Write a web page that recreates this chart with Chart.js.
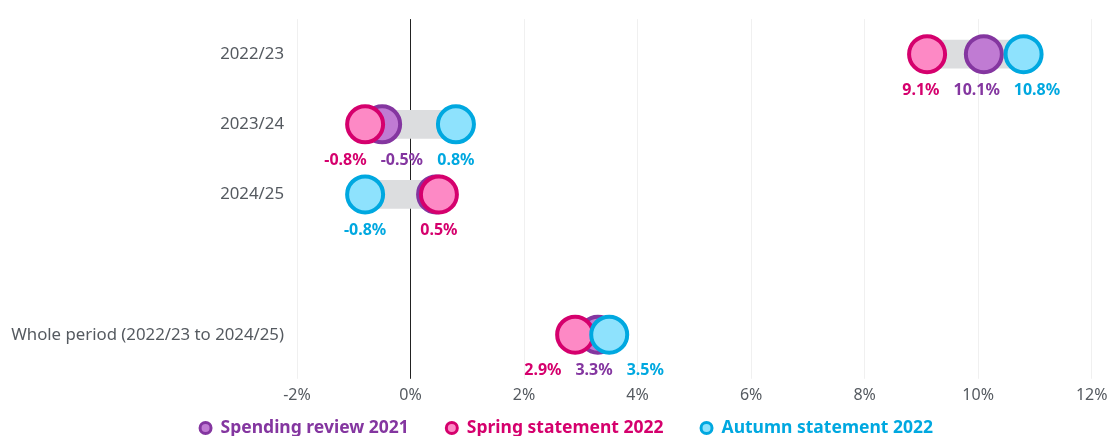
<!DOCTYPE html>
<html>
<head>
<meta charset="utf-8">
<script src="https://cdn.jsdelivr.net/npm/chart.js@4.4.1/dist/chart.umd.min.js"></script>
<style>
  html, body { margin: 0; padding: 0; background: #fff; overflow: hidden; }
  #wrap { width: 1115px; height: 440px; margin-top: -4px; position: relative; }
</style>
</head>
<body>
<div id="wrap"><canvas id="chart"></canvas></div>
<script>
// Categories (blank row keeps the gap before the whole period)
const categories = ['2022/23', '2023/24', '2024/25', '', 'Whole period (2022/23 to 2024/25)'];

// Per cent change
const spendingReview2021 = [10.1, -0.5, 0.45, null, 3.3];
const springStatement2022 = [9.1, -0.8, 0.5, null, 2.9];
const autumnStatement2022 = [10.8, 0.8, -0.8, null, 3.5];

// Labels the reference leaves out (hidden behind another dot)
const hiddenLabels = { 'Spending review 2021': ['2024/25'] };

const xTicks = [-2, 0, 2, 4, 6, 8, 10, 12];

const series = [
    { name: 'Spending review 2021', values: spendingReview2021, border: '#8436a0', fill: '#c07bd3', order: 3 },
    { name: 'Spring statement 2022', values: springStatement2022, border: '#d5006d', fill: '#fd89c5', order: 2 },
    { name: 'Autumn statement 2022', values: autumnStatement2022, border: '#00a8e0', fill: '#8ee2fd', order: 1 }
];

// grey range bar from lowest to highest estimate in each row
const ranges = categories.map((c, i) => {
    const vals = series.map(s => s.values[i]).filter(v => v !== null);
    if (vals.length === 0) return null;
    return [Math.min(...vals), Math.max(...vals)];
});

const FONT = "'Noto Sans', 'Open Sans', sans-serif";

// draws the value labels under the dots, pushed apart where they collide
const valueLabels = {
    id: 'valueLabels',
    afterDatasetsDraw(chart) {
        const ctx = chart.ctx;
        ctx.save();
        ctx.font = 'bold 16px ' + FONT;
        ctx.textBaseline = 'middle';
        ctx.textAlign = 'center';
        const gap = 14;

        categories.forEach((cat, i) => {
            const items = [];
            series.forEach((s, si) => {
                const v = s.values[i];
                if (v === null) return;
                if ((hiddenLabels[s.name] || []).includes(cat)) return;
                const pt = chart.getDatasetMeta(si + 1).data[i];
                const text = v.toFixed(1) + '%';
                items.push({ x: pt.x, y: pt.y, w: ctx.measureText(text).width, text, color: s.border });
            });
            items.sort((a, b) => a.x - b.x);

            // simple relaxation so labels do not overlap
            for (let iter = 0; iter < 60; iter++) {
                let moved = false;
                for (let k = 0; k < items.length - 1; k++) {
                    const a = items[k], b = items[k + 1];
                    const need = (a.w + b.w) / 2 + gap - (b.x - a.x);
                    if (need > 0.1) {
                        a.x -= need / 2;
                        b.x += need / 2;
                        moved = true;
                    }
                }
                if (!moved) break;
            }

            items.forEach(it => {
                ctx.fillStyle = it.color;
                ctx.fillText(it.text, it.x, it.y + 36);
            });
        });
        ctx.restore();
    }
};

// legend along the bottom edge (partly cut off, as in the source)
const bottomLegend = {
    id: 'bottomLegend',
    afterDraw(chart) {
        const ctx = chart.ctx;
        ctx.save();
        ctx.font = 'bold 17.5px ' + FONT;
        ctx.textBaseline = 'middle';
        ctx.textAlign = 'left';
        const dotR = 5.5, textOff = 15, itemGap = 43;
        const widths = series.map(s => ctx.measureText(s.name).width);
        let total = 0;
        widths.forEach((w, i) => { total += dotR + textOff + w + (i < widths.length - 1 ? itemGap - dotR : 0); });
        let x = (chart.width - total) / 2 + dotR + 9;
        const y = chart.height - 8;
        series.forEach((s, i) => {
            ctx.beginPath();
            ctx.arc(x, y, dotR, 0, Math.PI * 2);
            ctx.fillStyle = s.fill;
            ctx.fill();
            ctx.lineWidth = 3;
            ctx.strokeStyle = s.border;
            ctx.stroke();
            ctx.fillStyle = s.border;
            ctx.fillText(s.name, x + textOff, y);
            x += textOff + widths[i] + itemGap;
        });
        ctx.restore();
    }
};

const datasets = [
    {
        type: 'bar',
        label: 'range',
        data: ranges,
        backgroundColor: '#dcdddf',
        borderWidth: 0,
        borderSkipped: false,
        barThickness: 28,
        order: 10
    }
].concat(series.map(s => ({
    type: 'line',
    label: s.name,
    indexAxis: 'y',
    data: s.values,
    showLine: false,
    pointStyle: 'circle',
    pointRadius: 18,
    pointHoverRadius: 18,
    pointBorderWidth: 4,
    pointHoverBorderWidth: 4,
    pointBackgroundColor: s.fill,
    pointBorderColor: s.border,
    borderColor: s.border,
    backgroundColor: s.fill,
    order: s.order
})));

new Chart(document.getElementById('chart'), {
    type: 'bar',
    data: { labels: categories, datasets: datasets },
    options: {
        indexAxis: 'y',
        responsive: true,
        maintainAspectRatio: false,
        animation: false,
        layout: { padding: { top: 8, right: 14, left: 0, bottom: 23 } },
        scales: {
            x: {
                type: 'linear',
                min: -2,
                max: 12,
                afterBuildTicks: scale => { scale.ticks = xTicks.map(v => ({ value: v })); },
                ticks: {
                    callback: v => v + '%',
                    color: '#555a60',
                    font: { family: FONT, size: 16 },
                    padding: 7.5
                },
                grid: {
                    drawTicks: true,
                    tickLength: 9,
                    color: c => c.tick && c.tick.value === 0 ? '#222222' : '#f0f0f0',
                    lineWidth: 1
                },
                border: { display: false }
            },
            y: {
                type: 'category',
                offset: true,
                afterFit: scale => { scale.width = 297; },
                ticks: {
                    color: '#555a60',
                    font: { family: FONT, size: 16.8 },
                    padding: 13
                },
                grid: { display: false, drawTicks: false },
                border: { display: false }
            }
        },
        plugins: {
            tooltip: { enabled: false },
            legend: { display: false }
        }
    },
    plugins: [valueLabels, bottomLegend]
});
</script>
</body>
</html>
